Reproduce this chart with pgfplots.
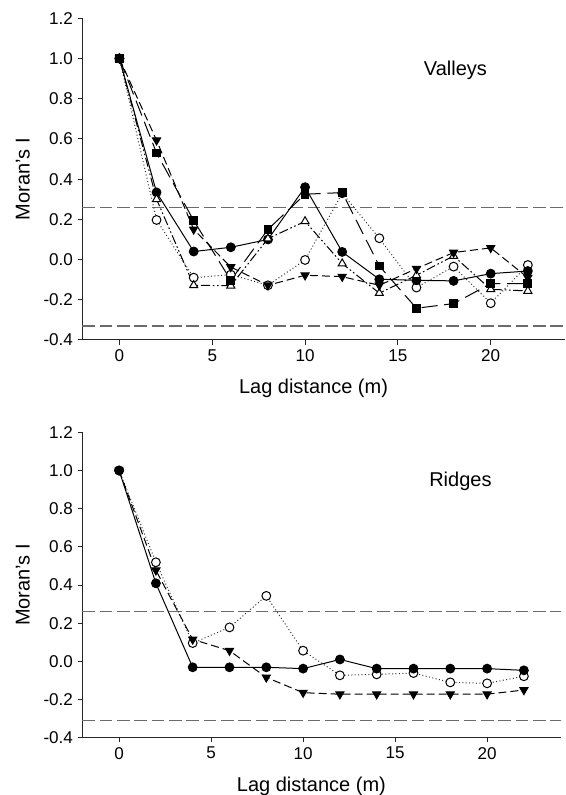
\documentclass[border=0pt]{standalone}
\usepackage{fontspec}
\setmainfont{Liberation Sans}
\usepackage{pgfplots}
\pgfplotsset{compat=1.18}

\newcommand\tickfont{\fontsize{12.8}{15}\selectfont}
\newcommand\labfont{\fontsize{15}{18}\selectfont}

\pgfplotsset{
  moran/.style={
    scale only axis,
    xmin=-2, xmax=24, ymin=-0.4, ymax=1.2,
    clip=false,
    axis lines*=left,
    axis line style={-, line width=0.75pt, black!85},
    tick align=outside,
    major tick length=3.5pt,
    tick style={line width=0.75pt, black!85},
    minor tick num=0,
    xtick={0,5,10,15,20},
    ytick={-0.4,-0.2,0,0.2,0.4,0.6,0.8,1.0,1.2},
    /pgf/number format/assume math mode=true,
    yticklabel style={/pgf/number format/fixed, /pgf/number format/fixed zerofill, /pgf/number format/precision=1},
    y tick label style={font=\tickfont},
    x tick label style={font=\tickfont},
    ylabel={Moran's I},
    xlabel={Lag distance (m)},
    ylabel style={font=\labfont, at={([xshift=-44.5pt]axis description cs:0,0.5)}, anchor=center, rotate=0},
    xlabel style={font=\labfont, at={([yshift=-40pt]axis description cs:0.479,0)}, anchor=base},
  },
  refline/.style={black!58, line width=1pt, dash pattern=on 9.5pt off 3.5pt, mark=none, forget plot},
  sA/.style={black, line width=0.75pt, solid, mark=*, mark size=3.3pt, mark options={solid, fill=black}},
  sB/.style={black!80, line width=0.75pt, dash pattern=on 0.75pt off 1.8pt, mark=*, mark size=3.3pt, mark options={solid, draw=black, fill=white}},
  sC/.style={black, line width=0.75pt, dash pattern=on 6pt off 3pt, mark=triangle*, mark size=3.5pt, mark options={solid, fill=black, rotate=180}},
  sD/.style={black, line width=0.75pt, dash pattern=on 7pt off 2pt on 1.2pt off 2pt on 1.2pt off 2pt, mark=triangle*, mark size=3.5pt, mark options={solid, draw=black, fill=white}},
  sE/.style={black, line width=0.75pt, dash pattern=on 12pt off 5pt, mark=square*, mark size=2.9pt, mark options={solid, fill=black}},
}

\begin{document}
\begin{tikzpicture}
\useasboundingbox (-61.725pt,-341.25pt) rectangle (362.775pt,255pt);

% Valleys
\begin{axis}[moran, width=362pt, height=241.3pt, at={(0pt,0pt)}, anchor=south west]
\addplot[refline] coordinates {(-2,0.26) (24,0.26)};
\addplot[refline] coordinates {(-2,-0.33) (24,-0.33)};
\addplot[sB] coordinates {(0,1.0) (2,0.197) (4,-0.09) (6,-0.075) (8,-0.128) (10,-0.002) (12,0.33) (14,0.106) (16,-0.139) (18,-0.035) (20,-0.217) (22,-0.027)};
\addplot[sA] coordinates {(0,1.0) (2,0.334) (4,0.04) (6,0.061) (8,0.10) (10,0.36) (12,0.038) (14,-0.098) (16,-0.103) (18,-0.106) (20,-0.07) (22,-0.057)};
\addplot[sD] coordinates {(0,1.0) (2,0.30) (4,-0.128) (6,-0.13) (8,0.104) (10,0.19) (12,-0.02) (14,-0.167) (16,-0.078) (18,0.018) (20,-0.148) (22,-0.156)};
\addplot[sE] coordinates {(0,1.0) (2,0.53) (4,0.194) (6,-0.103) (8,0.15) (10,0.325) (12,0.333) (14,-0.032) (16,-0.242) (18,-0.219) (20,-0.12) (22,-0.12)};
\addplot[sC] coordinates {(0,1.0) (2,0.593) (4,0.15) (6,-0.037) (8,-0.128) (10,-0.078) (12,-0.085) (14,-0.128) (16,-0.045) (18,0.035) (20,0.058) (22,-0.09)};
\node[font=\labfont, anchor=base] at (axis cs:18.1,0.9155) {Valleys};
\end{axis}

% Ridges
\begin{axis}[moran, width=358.8pt, height=229.1pt, at={(0pt,-298.3pt)}, anchor=south west]
\addplot[refline] coordinates {(-2,0.26) (24,0.26)};
\addplot[refline] coordinates {(-2,-0.31) (24,-0.31)};
\addplot[sB] coordinates {(0,1.0) (2,0.519) (4,0.096) (6,0.178) (8,0.343) (10,0.056) (12,-0.073) (14,-0.068) (16,-0.061) (18,-0.11) (20,-0.115) (22,-0.078)};
\addplot[sA] coordinates {(0,1.0) (2,0.409) (4,-0.031) (6,-0.031) (8,-0.031) (10,-0.038) (12,0.010) (14,-0.038) (16,-0.038) (18,-0.038) (20,-0.038) (22,-0.047)};
\addplot[sC] coordinates {(0,1.0) (2,0.477) (4,0.115) (6,0.056) (8,-0.084) (10,-0.164) (12,-0.172) (14,-0.172) (16,-0.172) (18,-0.172) (20,-0.172) (22,-0.15)};
\node[font=\labfont, anchor=base] at (axis cs:18.55,0.916) {Ridges};
\end{axis}
\end{tikzpicture}
\end{document}
